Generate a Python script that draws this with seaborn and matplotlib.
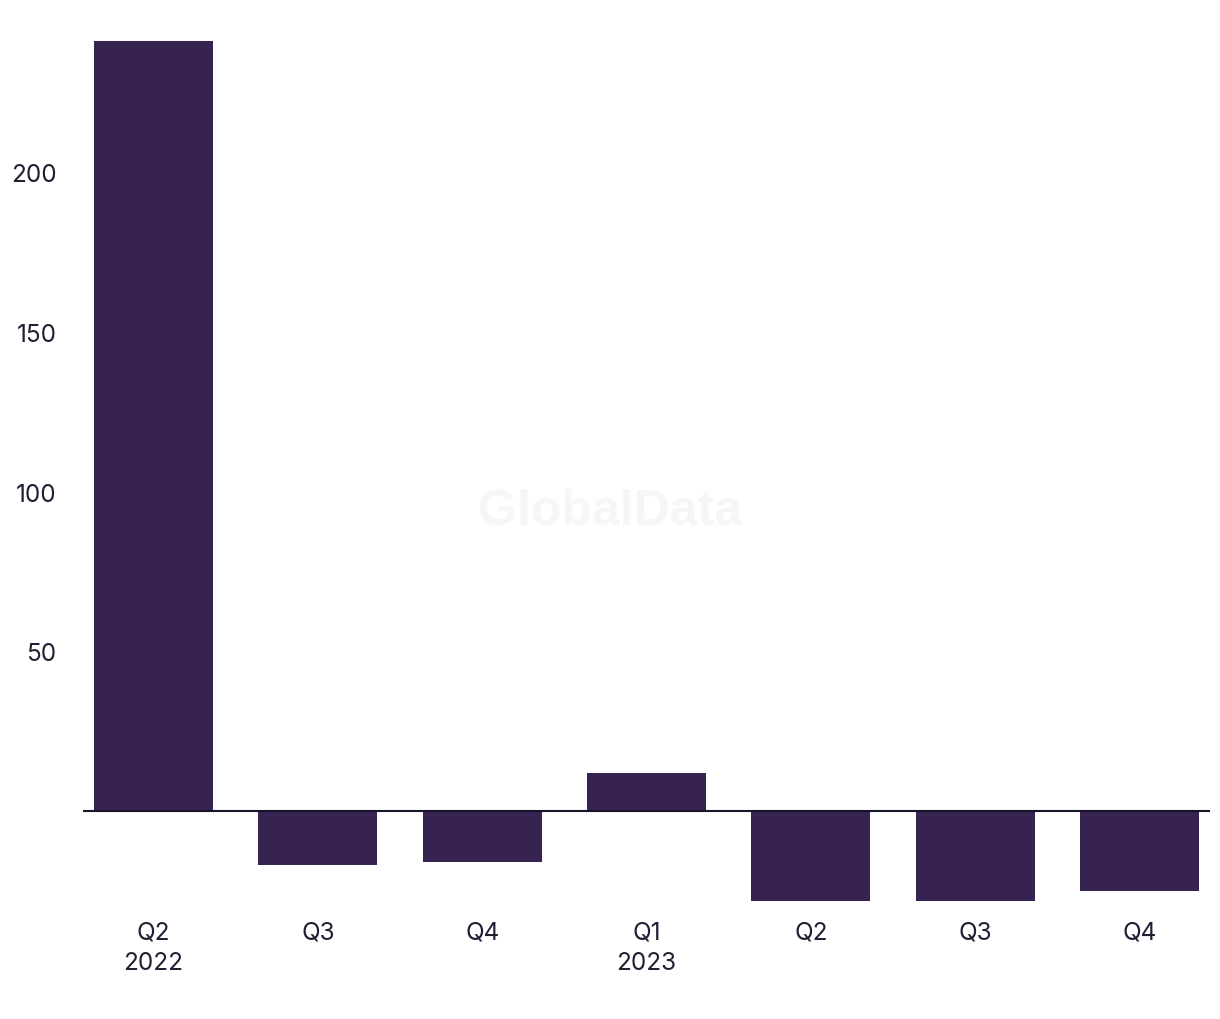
import pandas as pd
import seaborn as sns
import matplotlib.pyplot as plt

# quarterly values
periods = ["Q2 2022", "Q3 2022", "Q4 2022", "Q1 2023", "Q2 2023", "Q3 2023", "Q4 2023"]
quarters = ["Q2", "Q3", "Q4", "Q1", "Q2", "Q3", "Q4"]
years = ["2022", "", "", "2023", "", "", ""]
values = [241, -17, -16, 12, -28, -28, -25]
yticks = [50, 100, 150, 200]

bar_color = "#372352"
text_color = "#1f1f33"

sns.set_style("white")
plt.rcParams["font.family"] = ["Inter", "DejaVu Sans"]

df = pd.DataFrame({"period": periods, "value": values})

fig = plt.figure(figsize=(12.2, 10.2), dpi=100)
ax = fig.add_axes([0.068, 0.1098, 0.9238, 0.8490])

sns.barplot(data=df, x="period", y="value", order=periods, color=bar_color,
            saturation=1, width=0.724, linewidth=0, ax=ax)

ax.axhline(0, color="#16142a", lw=1.5, zorder=5)

ax.set_xlim(-0.43, 6.43)
ax.set_ylim(-30, 241)
ax.set_yticks(yticks)
ax.set_yticklabels([str(t) for t in yticks])

labels = [q if not y else q + "\n" + y for q, y in zip(quarters, years)]
ax.set_xticks(range(len(periods)))
ax.set_xticklabels(labels, linespacing=1.45)

ax.tick_params(axis="both", length=0, labelsize=17.5, colors=text_color)
ax.tick_params(axis="x", pad=9.5)
ax.tick_params(axis="y", pad=19)
ax.set_xlabel("")
ax.set_ylabel("")
sns.despine(ax=ax, left=True, bottom=True)

# faint watermark
fig.text(0.5, 0.498, "GlobalData", ha="center", va="center", fontsize=36,
         fontweight="bold", color="#f6f6f6", family=["Liberation Sans", "DejaVu Sans"],
         zorder=0)

plt.savefig("out.png", dpi=100)
